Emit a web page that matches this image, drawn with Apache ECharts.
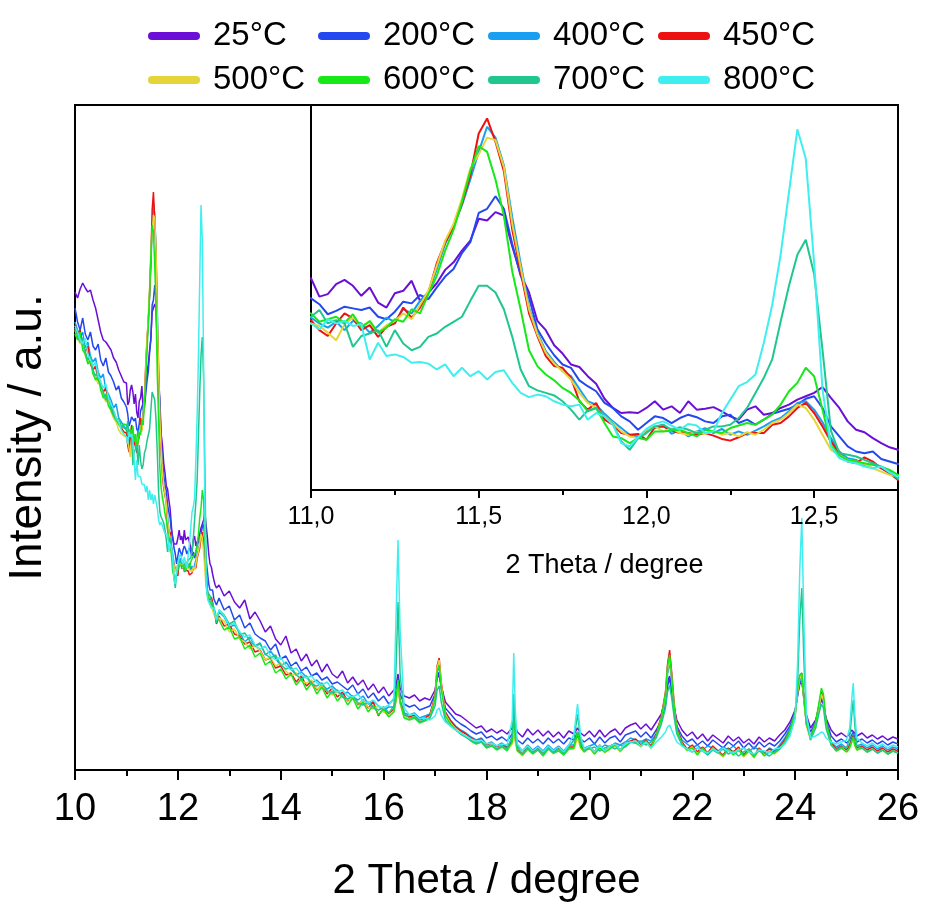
<!DOCTYPE html>
<html><head><meta charset="utf-8">
<script src="https://cdn.jsdelivr.net/npm/echarts@6/dist/echarts.min.js"></script>
<style>html,body{margin:0;padding:0;background:#fff}#c{width:925px;height:904px}</style>
</head><body><div id="c"></div>
<script>
const seriesNames = ['25°C','200°C','400°C','450°C','500°C','600°C','700°C','800°C'];
const seriesColors = ['#6B0FD6','#2448F0','#189FF2','#EE1111','#E5D43A','#17E817','#1FC78E','#3FEFEF'];

// 2 Theta positions (three segments)
const xA = [10.00,10.05,10.10,10.15,10.20,10.25,10.30,10.35,10.40,10.45,10.50,10.55,10.60,10.65,10.70,10.75,10.80,10.85,10.90,10.95];
const xB = [11.000,11.025,11.050,11.075,11.100,11.125,11.150,11.175,11.200,11.225,11.250,11.275,11.300,11.325,11.350,11.375,11.400,11.425,11.450,11.475,11.500,11.525,11.550,11.575,11.600,11.625,11.650,11.675,11.700,11.725,11.750,11.775,11.800,11.825,11.850,11.875,11.900,11.925,11.950,11.975,12.000,12.025,12.050,12.075,12.100,12.125,12.150,12.175,12.200,12.225,12.250,12.275,12.300,12.325,12.350,12.375,12.400,12.425,12.450,12.475,12.500,12.525,12.550,12.575,12.600,12.625,12.650,12.675,12.700,12.725,12.750];
const xC = [12.8,12.9,13.0,13.1,13.2,13.3,13.4,13.5,13.6,13.7,13.8,13.9,14.0,14.1,14.2,14.3,14.4,14.5,14.6,14.7,14.8,14.9,15.0,15.1,15.2,15.3,15.4,15.5,15.6,15.7,15.8,15.9,16.0,16.1,16.2,
16.24,16.28,16.32,
16.4,16.5,16.6,16.7,16.8,16.9,17.0,
17.04,17.08,17.12,
17.2,17.3,17.4,17.5,17.6,17.7,17.8,17.9,18.0,18.1,18.2,18.3,18.4,18.5,
18.53,18.56,
18.6,18.7,18.8,18.9,19.0,19.1,19.2,19.3,19.4,19.5,19.6,19.7,
19.77,19.83,
19.9,20.0,20.1,20.2,20.3,20.4,20.5,20.6,20.7,20.8,20.9,21.0,21.1,21.2,21.3,21.4,
21.48,21.52,21.56,21.6,21.65,
21.7,21.8,21.9,22.0,22.1,22.2,22.3,22.4,22.5,22.6,22.7,22.8,22.9,23.0,23.1,23.2,23.3,23.4,23.5,23.6,23.7,23.8,23.9,24.0,
24.05,24.09,24.13,24.17,24.22,
24.3,24.4,
24.46,24.51,24.55,24.6,
24.7,24.8,24.9,25.0,
25.06,25.1,25.13,25.16,25.2,
25.3,25.4,25.5,25.6,25.7,25.8,25.9,26.0];

// Intensity (a.u.) — segment A (10.00–10.95)
const a25  = [478,472,481,487,482,478,480,470,462,450,438,430,428,424,420,412,408,400,394,388];
const a200 = [462,448,440,452,436,430,438,424,420,426,410,404,412,398,394,388,380,384,372,368];
const a400 = [448,440,432,438,422,428,414,408,412,398,392,396,380,376,370,362,366,352,348,344];
const a450 = [445,436,440,425,418,424,406,400,404,390,386,378,382,370,364,358,352,346,342,338];
const a500 = [440,432,426,430,414,408,412,398,392,386,390,374,368,372,358,352,348,340,336,334];
const a600 = [436,430,438,420,416,406,410,396,390,394,380,372,376,364,360,354,350,346,342,346];
const a700 = [442,434,428,432,418,410,414,400,394,398,384,378,370,374,362,356,350,352,344,342];
const a800 = [444,438,430,426,432,416,410,404,408,394,388,382,386,372,366,360,352,348,340,336];

// segment B (11.000–12.750)
const b25  = [387,365,368,380,385,378,366,376,358,352,369,372,384,360,370,381,397,406,420,432,458,456,466,462,425,392,370,336,325,307,297,284,281,270,261,243,232,
              226,227,226,232,240,230,234,226,240,230,231,233,228,222,218,230,234,224,226,232,236,242,246,250,257,244,232,216,206,203,196,190,185,182];
const b200 = [363,356,344,348,353,351,349,352,341,338,347,359,357,367,362,376,389,398,417,430,465,470,485,470,428,390,364,326,309,295,284,280,265,258,252,238,232,
              222,216,206,214,222,220,214,220,224,221,216,214,222,224,214,218,212,218,225,228,231,236,243,246,232,210,198,186,180,178,180,171,168,165];
const b400 = [340,333,328,335,325,336,333,322,330,340,335,350,345,360,370,398,428,450,474,505,538,568,555,522,460,405,352,322,300,287,276,270,255,240,236,225,216,
              208,200,198,204,208,212,201,206,198,204,208,202,207,200,204,200,205,210,216,220,228,238,240,230,215,196,180,172,170,163,165,160,154,150];
const b450 = [337,325,318,333,345,339,325,331,317,329,333,352,340,352,370,405,430,448,476,510,560,578,550,515,445,395,345,318,294,282,280,268,240,230,238,218,212,
              202,200,201,194,209,210,205,202,202,200,202,199,195,193,197,202,202,202,212,214,222,232,238,226,210,192,178,168,166,173,168,160,154,146];
const b500 = [333,330,322,313,332,340,330,335,322,331,336,345,338,355,372,402,432,452,482,518,535,555,552,520,452,400,350,320,298,285,276,266,250,238,232,222,214,
              204,198,196,206,210,204,208,202,200,204,201,205,200,202,198,203,200,206,214,218,226,236,232,218,200,182,176,170,168,165,160,156,152,150];
const b600 = [345,335,338,341,334,344,328,336,322,328,338,335,350,345,368,390,420,445,478,515,545,538,505,462,395,350,301,282,272,265,256,250,241,228,232,214,198,
              196,190,196,194,204,204,205,206,202,198,206,204,202,208,211,214,212,218,224,236,252,262,280,270,230,188,175,170,168,166,164,162,158,152];
const b700 = [341,349,333,337,333,305,318,321,325,305,325,309,301,305,317,321,329,335,341,360,378,378,370,350,317,278,258,253,250,247,240,230,218,229,232,222,213,
              192,182,196,202,210,212,206,209,206,202,206,210,210,212,220,232,250,268,290,335,378,415,433,392,301,205,178,176,174,170,166,162,156,147];
const b800 = [333,326,338,333,336,330,332,290,310,294,296,293,286,287,285,278,284,270,280,270,276,266,275,277,262,250,245,248,246,240,236,234,236,218,226,222,212,
              190,186,197,207,213,216,211,206,213,211,202,204,226,242,258,263,272,310,355,415,490,565,530,405,254,186,172,168,166,162,160,162,155,150];

// segment C (12.8–26.0)
const c25 = [185,174,179,168,162,170,151,158,149,138,144,131,125,134,117,121,109,116,104,110,98,106,96,92,99,87,93,85,90,80,86,77,83,74,80,
  84,96,82, 74,72,75,69,72,70,80, 92,95,84,
  68,62,56,54,50,46,42,44,38,41,37,40,36,42, 52,44,
  38,33,41,35,40,34,39,33,38,32,39,36, 42,37,
  34,39,33,40,33,38,41,35,42,45,47,41,46,40,48,56, 72,88,94,80,62,
  50,40,34,38,31,36,29,35,31,27,34,29,33,27,31,26,33,28,32,29,35,40,48,60,
  75,86,88,74,55, 42,50, 62,70,66,52, 40,34,37,33, 36,40,42,37,34, 37,32,35,31,34,30,33,31];
const c200 = [172,160,164,150,155,142,147,136,132,129,120,126,111,114,104,108,99,103,94,97,90,93,86,88,84,80,85,76,81,72,77,69,74,66,71,
  78,92,76, 66,63,65,60,62,64,76, 94,98,82,
  62,56,50,46,43,39,36,38,32,34,30,33,29,36, 45,36,
  30,26,32,27,31,26,32,27,31,26,32,30, 38,31,
  28,32,26,33,27,32,34,28,35,37,39,33,38,32,40,50, 66,84,92,78,58,
  44,34,28,31,25,29,24,30,26,22,28,24,29,22,27,21,28,23,27,24,29,36,44,58,
  76,88,90,72,50, 38,48, 62,72,68,50, 34,28,31,27, 30,35,38,32,28, 31,27,30,26,29,25,28,26];
const c400 = [158,153,143,145,138,128,133,124,127,115,119,112,104,108,101,95,98,93,87,90,85,81,84,79,75,78,73,70,74,66,69,64,60,63,63,
  72,88,70, 57,55,57,52,54,56,72, 98,104,84,
  58,50,44,40,37,33,30,32,26,28,24,27,23,30, 46,32,
  24,19,25,20,24,19,25,20,24,19,25,25, 36,26,
  22,24,26,21,25,23,27,25,28,32,30,28,31,29,36,50, 70,96,108,90,62,
  42,30,26,22,25,20,24,22,19,23,20,24,19,22,18,23,20,17,22,19,25,32,42,56,
  78,90,92,70,46, 34,46, 62,75,70,48, 28,23,26,22, 26,32,36,28,24, 26,22,25,21,24,20,23,21];
const c450 = [154,144,146,136,134,126,128,118,120,110,112,102,104,95,97,88,94,84,89,80,85,76,82,73,78,69,74,65,70,62,68,54,63,56,61,
  70,85,68, 55,53,55,50,52,55,74, 104,112,88,
  58,49,43,39,36,32,29,31,25,27,23,26,22,28, 44,30,
  21,16,23,18,22,17,23,18,22,17,23,23, 34,24,
  20,24,18,25,19,24,26,20,27,29,31,25,30,24,36,54, 78,106,120,98,66,
  42,28,21,25,18,23,17,24,19,15,22,18,23,15,21,14,22,17,21,18,23,30,40,56,
  80,94,97,72,46, 32,46, 64,78,72,48, 27,21,24,20, 24,30,34,26,22, 24,20,23,19,22,18,21,19];
const c500 = [152,149,138,141,131,128,121,124,119,110,113,104,107,99,94,97,89,87,90,81,84,79,75,78,73,70,72,66,69,63,61,64,58,55,59,
  68,84,66, 53,51,53,48,50,53,72, 102,110,86,
  56,47,41,37,34,30,27,29,23,25,21,24,20,26, 42,28,
  19,14,21,16,20,15,21,16,20,15,21,21, 32,22,
  18,22,16,23,17,22,24,18,25,27,29,23,28,22,34,52, 74,100,112,92,62,
  40,26,19,23,16,21,15,22,17,13,20,16,21,13,19,12,20,15,19,16,21,28,38,54,
  78,92,95,70,44, 30,44, 62,76,70,46, 25,19,22,18, 22,28,32,24,20, 22,18,21,17,20,16,19,17];
const c600 = [150,140,143,131,133,121,125,113,117,105,109,97,101,91,96,85,91,80,87,76,83,72,79,69,75,65,72,61,68,58,65,55,61,53,58,
  70,90,68, 52,50,52,47,49,52,70, 98,105,82,
  54,46,40,36,33,29,26,28,22,24,20,23,19,28, 56,32,
  19,15,21,16,20,14,21,17,19,15,21,22, 38,23,
  18,23,16,22,18,21,25,19,24,28,27,24,29,22,34,52, 76,104,115,94,62,
  40,26,20,22,15,22,16,21,18,14,21,15,20,14,19,13,21,14,18,17,21,28,40,58,
  82,95,97,72,46, 32,48, 66,82,76,50, 26,19,22,18, 22,28,33,25,20, 22,18,21,17,20,16,19,17];
const c700 = [160,155,146,149,135,137,129,124,126,116,112,115,105,101,103,95,91,94,86,84,87,79,77,80,73,71,74,67,65,68,62,60,63,57,64,
  100,168,96, 56,52,53,48,50,52,64, 80,84,68,
  50,44,40,36,33,29,27,28,23,25,21,24,21,34, 76,40,
  22,16,22,17,21,16,22,17,21,16,23,30, 56,30,
  20,21,23,19,22,24,21,25,23,28,27,29,25,28,32,46, 62,78,85,72,52,
  36,25,21,18,22,19,15,20,17,21,16,19,14,18,21,15,19,17,14,18,21,27,36,52,
  90,150,182,110,50, 30,42, 56,66,62,42, 25,20,23,22, 32,55,70,45,24, 22,18,21,17,20,16,19,17];
const c800 = [160,154,144,147,138,133,135,125,121,124,114,110,113,104,100,102,95,92,94,87,85,88,81,78,80,74,73,76,69,67,70,64,62,65,72,
  150,230,140, 62,55,56,51,52,50,54, 60,62,55,
  48,44,40,37,34,31,29,30,26,27,24,26,25,50, 117,60,
  26,19,24,19,23,18,24,19,23,18,25,36, 66,34,
  21,24,18,25,19,24,26,20,27,28,29,24,28,22,28,33, 38,43,45,40,34,
  28,24,21,18,22,19,17,21,18,22,19,17,20,22,18,16,20,19,17,21,22,26,34,52,
  110,200,252,150,55, 32,34, 36,38,37,32, 28,26,28,30, 42,70,87,56,32, 27,24,27,23,26,22,25,23];

const xAll = xA.concat(xB, xC);
const yAll = [
  a25.concat(b25, c25), a200.concat(b200, c200), a400.concat(b400, c400), a450.concat(b450, c450),
  a500.concat(b500, c500), a600.concat(b600, c600), a700.concat(b700, c700), a800.concat(b800, c800)
];

const FONT = "'Liberation Sans', Arial, sans-serif";
const problems = [];
yAll.forEach((ys, k) => { if (ys.length !== xAll.length) problems.push(seriesNames[k] + ':' + ys.length + '/' + xAll.length); });

const series = [];
seriesNames.forEach((name, k) => {
  const data = xAll.map((x, i) => [x, yAll[k][i]]);
  series.push({ type: 'line', name, data, xAxisIndex: 0, yAxisIndex: 0, symbol: 'none', showSymbol: false,
    color: seriesColors[k], lineStyle: { width: 1.5, color: seriesColors[k] }, clip: true, animation: false, z: 2 + k * 0.01 });
  series.push({ type: 'line', name, data, xAxisIndex: 1, yAxisIndex: 1, symbol: 'none', showSymbol: false,
    color: seriesColors[k], lineStyle: { width: 2, color: seriesColors[k] }, clip: true, animation: false, z: 5 + k * 0.01 });
});

const blackLine = { color: '#000', width: 2 };
const chart = echarts.init(document.getElementById('c'), null, { renderer: 'canvas' });
chart.setOption({
  backgroundColor: '#fff',
  animation: false,
  legend: {
    data: seriesNames, left: 143, top: 14, width: 700, orient: 'horizontal',
    itemWidth: 52, itemHeight: 8, itemGap: 10, selectedMode: false,
    icon: 'path://M4 0H48A4 4 0 0 1 48 8H4A4 4 0 0 1 4 0Z',
    textStyle: { fontSize: 33, fontFamily: FONT, color: '#000', width: 95, padding: [0, 0, 0, 8], lineHeight: 34 }
  },
  grid: [
    { left: 75, top: 105, width: 823, height: 665, show: true, borderColor: '#000', borderWidth: 2, containLabel: false, outerBoundsMode: 'none' },
    { left: 311, top: 105, width: 587, height: 385, show: true, borderColor: '#000', borderWidth: 2, backgroundColor: '#fff', containLabel: false, outerBoundsMode: 'none', z: 3 }
  ],
  xAxis: [
    { gridIndex: 0, type: 'value', min: 10, max: 26, interval: 2, position: 'bottom',
      axisLine: { show: true, onZero: false, lineStyle: blackLine },
      axisTick: { show: true, inside: false, length: 10, lineStyle: blackLine },
      minorTick: { show: true, splitNumber: 2, length: 6, lineStyle: blackLine },
      splitLine: { show: false }, minorSplitLine: { show: false },
      axisLabel: { fontSize: 38, color: '#000', margin: 21, fontFamily: FONT },
      name: '2 Theta / degree', nameLocation: 'middle', nameGap: 90,
      nameTextStyle: { fontSize: 42, color: '#000', fontFamily: FONT } },
    { gridIndex: 1, type: 'value', min: 11, max: 12.75, interval: 0.5, position: 'bottom', z: 6,
      axisLine: { show: true, onZero: false, lineStyle: blackLine },
      axisTick: { show: true, inside: false, length: 8, lineStyle: blackLine },
      splitLine: { show: false },
      axisLabel: { fontSize: 25, color: '#000', margin: 15, fontFamily: FONT, showMaxLabel: false,
        formatter: v => v.toFixed(1).replace('.', ',') },
      name: '2 Theta / degree', nameLocation: 'middle', nameGap: 62,
      nameTextStyle: { fontSize: 27, color: '#000', fontFamily: FONT } },
    { gridIndex: 1, type: 'value', min: 11, max: 12.75, interval: 0.25, position: 'bottom', z: 6,
      axisLine: { show: false, onZero: false },
      axisTick: { show: true, inside: false, length: 5, lineStyle: blackLine },
      axisLabel: { show: false }, splitLine: { show: false } }
  ],
  yAxis: [
    { gridIndex: 0, type: 'value', min: 0, max: 665,
      axisLine: { show: true, onZero: false, lineStyle: blackLine },
      axisTick: { show: false }, axisLabel: { show: false }, splitLine: { show: false },
      name: 'Intensity / a.u.', nameLocation: 'middle', nameGap: 24,
      nameTextStyle: { fontSize: 46, color: '#000', fontFamily: FONT } },
    { gridIndex: 1, type: 'value', min: 134, max: 594,
      axisLine: { show: true, onZero: false, lineStyle: blackLine },
      axisTick: { show: false }, axisLabel: { show: false }, splitLine: { show: false } }
  ],
  graphic: problems.length ? [{ type: 'text', left: 400, top: 300, style: { text: problems.join('\n'), fontSize: 20, fill: 'red' } }] : [],
  series
});
</script></body></html>
